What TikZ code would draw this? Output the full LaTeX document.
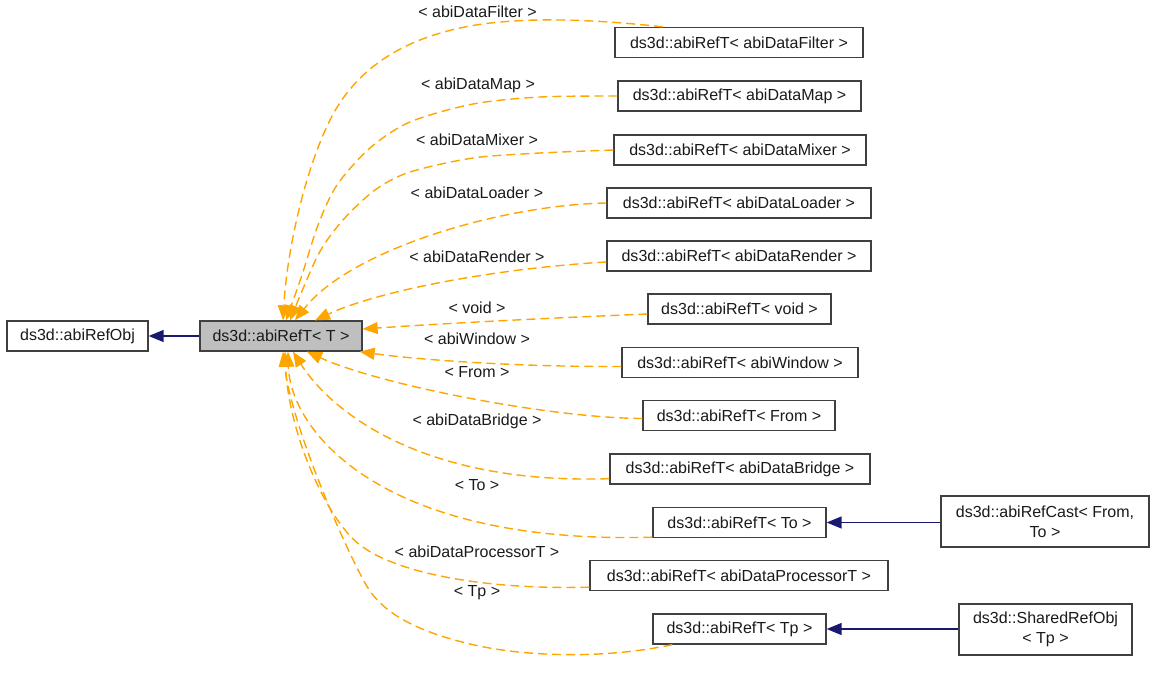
\documentclass[tikz,border=0pt]{standalone}
\usepackage{fontspec}
\setmainfont{Liberation Sans}
\usetikzlibrary{arrows.meta}
\definecolor{edgeorange}{HTML}{FFA500}
\definecolor{navyline}{HTML}{191970}
\definecolor{boxline}{HTML}{404040}
\definecolor{grayfill}{HTML}{BFBFBF}
\definecolor{txt}{HTML}{1A1A1A}
\begin{document}
\begin{tikzpicture}[x=1pt,y=-1pt,
  cls/.style={draw=boxline,line width=1.3pt,fill=white,minimum height=30pt,inner sep=0pt,align=center,
    font=\fontsize{16}{20}\selectfont,text=txt},
  lbl/.style={font=\fontsize{16}{20}\selectfont,inner sep=0pt,text=txt},
  inh/.style={draw=edgeorange,line width=1.4pt,dash pattern=on 9pt off 5pt,
    -{Triangle[length=15pt,width=12pt,fill=edgeorange]}},
  solidinh/.style={draw=navyline,line width=1.4pt,
    -{Triangle[length=15pt,width=12pt,fill=navyline]}}]
\useasboundingbox (0,0) rectangle (1155,672);

% nodes
\node[cls,minimum width=141pt] (obj) at (77.5,336) {ds3d::abiRefObj};
\node[cls,fill=grayfill,minimum width=162pt] (T) at (281,336) {ds3d::abiRefT< T >};
\node[cls,minimum width=248pt] (filter) at (739,42.5) {ds3d::abiRefT< abiDataFilter >};
\node[cls,minimum width=243pt] (map) at (739.5,96) {ds3d::abiRefT< abiDataMap >};
\node[cls,minimum width=252pt] (mixer) at (740,150) {ds3d::abiRefT< abiDataMixer >};
\node[cls,minimum width=264pt] (loader) at (739,203) {ds3d::abiRefT< abiDataLoader >};
\node[cls,minimum width=264pt] (render) at (739,256) {ds3d::abiRefT< abiDataRender >};
\node[cls,minimum width=183pt] (void) at (739.5,309) {ds3d::abiRefT< void >};
\node[cls,minimum width=236pt] (window) at (740,362.5) {ds3d::abiRefT< abiWindow >};
\node[cls,minimum width=192pt] (from) at (739,415.5) {ds3d::abiRefT< From >};
\node[cls,minimum width=260pt] (bridge) at (740,469) {ds3d::abiRefT< abiDataBridge >};
\node[cls,minimum width=173pt] (to) at (739.5,522.5) {ds3d::abiRefT< To >};
\node[cls,minimum width=298pt] (proc) at (739,575.5) {ds3d::abiRefT< abiDataProcessorT >};
\node[cls,minimum width=173pt] (tp) at (739.5,629) {ds3d::abiRefT< Tp >};
\node[cls,minimum width=208pt,minimum height=51pt] (cast) at (1045,521.5) {ds3d::abiRefCast< From,\\To >};
\node[cls,minimum width=173pt,minimum height=51pt] (shared) at (1045.5,629.5) {ds3d::SharedRefObj\\< Tp >};

% solid inheritance
\draw[solidinh] (T.west) -- (obj.east);
\draw[solidinh] (cast.west |- to.east) -- (to.east);
\draw[solidinh] (shared.west |- tp.east) -- (tp.east);

% template instance edges
\draw[inh] ([xshift=-76pt]filter.north) .. controls (600,20) and (520,15) .. (460,28)
  .. controls (400,41) and (355,70) .. (330,120)
  .. controls (305,170) and (287,250) .. ([xshift=2pt]T.north);
\draw[inh] plot[smooth] coordinates {(map.west) (540,97) (473,104) (410,122)
  (370,148) (337,185) (318,225) (302,275) ([xshift=5pt]T.north)};
\draw[inh] plot[smooth] coordinates {(mixer.west) (540,153) (473,158) (410,172)
  (375,190) (343,220) (318,255) ([xshift=9pt]T.north)};
\draw[inh] (loader.west) .. controls (500,205) and (350,250) .. ([xshift=14pt]T.north);
\draw[inh] ([yshift=-6pt]render.west) .. controls (500,268) and (380,290) .. ([xshift=34pt]T.north);
\draw[inh] ([yshift=-5pt]void.west) .. controls (550,318) and (450,323) .. ([yshift=7pt]T.east);
\draw[inh] ([yshift=-4pt]window.west) .. controls (520,367) and (420,360) .. ([xshift=-3pt]T.south east);
\draw[inh] ([yshift=-3pt]from.west) .. controls (550,418) and (380,385) .. ([xshift=26pt]T.south);
\draw[inh] ([yshift=6pt]bridge.south west) .. controls (420,485) and (330,410) .. ([xshift=12pt]T.south);
\draw[inh] ([yshift=1pt]to.south west) .. controls (380,545) and (290,430) .. ([xshift=7pt]T.south);
\draw[inh] ([yshift=4pt]proc.south west) .. controls (480,590) and (395,572) .. (360,545)
  .. controls (325,518) and (288,430) .. ([xshift=4pt]T.south);
\draw[inh] ([xshift=20pt]tp.south west) .. controls (600,660) and (520,656) .. (470,644)
  .. controls (420,632) and (385,615) .. (368,588)
  .. controls (351,561) and (292,430) .. ([xshift=2pt]T.south);

% labels
\node[lbl] (lfilter) at (477.5,11.5) {< abiDataFilter >};
\node[lbl] (lmap) at (478,85.5) {< abiDataMap >};
\node[lbl] (lmixer) at (477,140) {< abiDataMixer >};
\node[lbl] (lloader) at (477,193) {< abiDataLoader >};
\node[lbl] (lrender) at (477,257) {< abiDataRender >};
\node[lbl] (lvoid) at (477,308) {< void >};
\node[lbl] (lwindow) at (477,339) {< abiWindow >};
\node[lbl] (lfrom) at (477,372) {< From >};
\node[lbl] (lbridge) at (477,421) {< abiDataBridge >};
\node[lbl] (lto) at (477,485) {< To >};
\node[lbl] (lproc) at (477,552) {< abiDataProcessorT >};
\node[lbl] (ltp) at (477,593) {< Tp >};
\end{tikzpicture}
\end{document}
